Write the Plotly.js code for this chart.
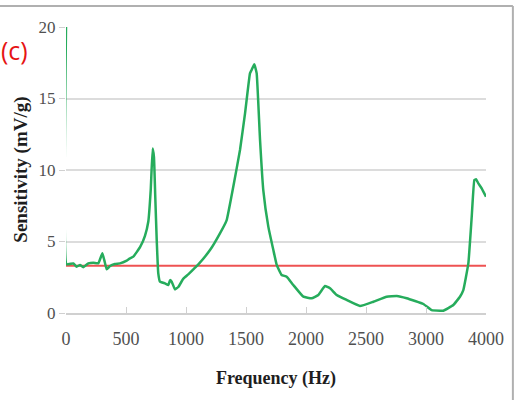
<!DOCTYPE html>
<html>
<head>
<meta charset="utf-8">
<script src="https://cdn.plot.ly/plotly-3.0.1.min.js"></script>
<style>html,body{margin:0;padding:0;background:#fff;}#chart{width:521px;height:400px;}</style>
</head>
<body>
<div id="chart"></div>
<script>
// Frequency positions (Hz, as placed on the drawn axis) and sensitivity (mV/g)
const freq = [0, 5, 61, 89, 117, 144, 186, 228, 269, 303, 319, 339, 367, 408, 450, 506, 533, 561, 617, 658, 686, 706, 722, 733, 744, 756, 769,
  783, 825, 853, 867, 881, 908, 936, 978, 1019, 1061, 1103, 1200, 1283, 1339, 1394, 1450, 1492, 1533, 1547, 1569, 1589, 1617, 1644, 1686,
  1728, 1756, 1797, 1839, 1894, 1978, 2047, 2103, 2158, 2200, 2256, 2339, 2450, 2561, 2672, 2756, 2839, 2978, 3047, 3117, 3144, 3228,
  3283, 3311, 3353, 3381, 3403, 3417, 3436, 3464, 3500];
const sensitivity = [20, 3.40, 3.47, 3.24, 3.36, 3.20, 3.47, 3.52, 3.47, 4.17, 3.70, 3.05, 3.29, 3.43, 3.47, 3.66, 3.82, 3.94, 4.60, 5.40, 6.4, 8.6, 11.5, 10.9, 8.1, 5.1, 2.77,
  2.19, 2.07, 1.96, 2.30, 2.19, 1.65, 1.82, 2.40, 2.70, 3.05, 3.40, 4.40, 5.57, 6.50, 8.83, 11.4, 13.96, 16.76, 17.0, 17.4, 16.76, 12.1, 8.6, 6.04,
  4.40, 3.36, 2.66, 2.54, 1.96, 1.14, 1.03, 1.26, 1.89, 1.73, 1.26, 0.91, 0.49, 0.79, 1.14, 1.19, 1.03, 0.63, 0.20, 0.16, 0.16, 0.56,
  1.14, 1.60, 3.47, 6.73, 9.30, 9.35, 9.07, 8.72, 8.13];
const threshold = 3.3;
const xTickVals = [0, 500, 1000, 1500, 2000, 2500, 3000, 3500];
const xTickText = ["0", "500", "1000", "1500", "2000", "2500", "3000", "4000"];
const yTickVals = [0, 5, 10, 15, 20];

const serif = "Liberation Serif, Times New Roman, serif";
const traces = [
  {x: [0, 3500], y: [threshold, threshold], mode: "lines", line: {color: "rgb(238,82,82)", width: 2}, hoverinfo: "skip"},
  {x: freq, y: sensitivity, mode: "lines", line: {color: "rgb(38,172,92)", width: 2.5, shape: "spline", smoothing: 0.3}}
];
const layout = {
  width: 521, height: 400,
  margin: {l: 66, r: 35, t: 27, b: 87},
  paper_bgcolor: "#fff", plot_bgcolor: "#fff",
  showlegend: false,
  xaxis: {
    range: [0, 3500], tickvals: xTickVals, ticktext: xTickText,
    showgrid: false, zeroline: false,
    showline: true, linecolor: "#d0d0d0", linewidth: 2,
    ticks: "inside", ticklen: 6, tickcolor: "#d0d0d0", tickwidth: 1,
    tickfont: {family: serif, size: 18, color: "#505050"},
    ticklabelstandoff: 8,
    title: {text: "<b>Frequency (Hz)</b>", font: {family: serif, size: 18, color: "#1e1e1e"}, standoff: 24}
  },
  yaxis: {
    range: [0, 20], tickvals: yTickVals, ticksuffix: "\u00a0",
    showgrid: true, gridcolor: "#dcdcdc", gridwidth: 2,
    zeroline: false, showline: false,
    ticks: "outside", ticklen: 6, tickcolor: "#d0d0d0", tickwidth: 1,
    tickfont: {family: serif, size: 17, color: "#505050"}
  },
  annotations: [
    {text: "<b>Sensitivity (mV/g)</b>", xref: "paper", yref: "paper", x: -0.108, y: 0.5, textangle: -90,
     xanchor: "center", yanchor: "middle", showarrow: false,
     font: {family: serif, size: 19, color: "#1e1e1e"}},
    {text: "(c)", xref: "paper", yref: "paper", x: -0.16, y: 0.92, xanchor: "left", yanchor: "middle",
     showarrow: false, font: {family: "Open Sans, DejaVu Sans, sans-serif", size: 25, color: "rgb(230,20,20)"}}
  ],
  shapes: [
    {type: "line", xref: "paper", yref: "paper", x0: -0.2, x1: 1.064, y0: 1.073, y1: 1.073, line: {color: "#b0b0b0", width: 2}},
    {type: "line", xref: "paper", yref: "paper", x0: 1.064, x1: 1.064, y0: 1.073, y1: -0.31, line: {color: "#b0b0b0", width: 2}}
  ]
};
Plotly.newPlot("chart", traces, layout, {displayModeBar: false, staticPlot: true});
</script>
</body>
</html>
